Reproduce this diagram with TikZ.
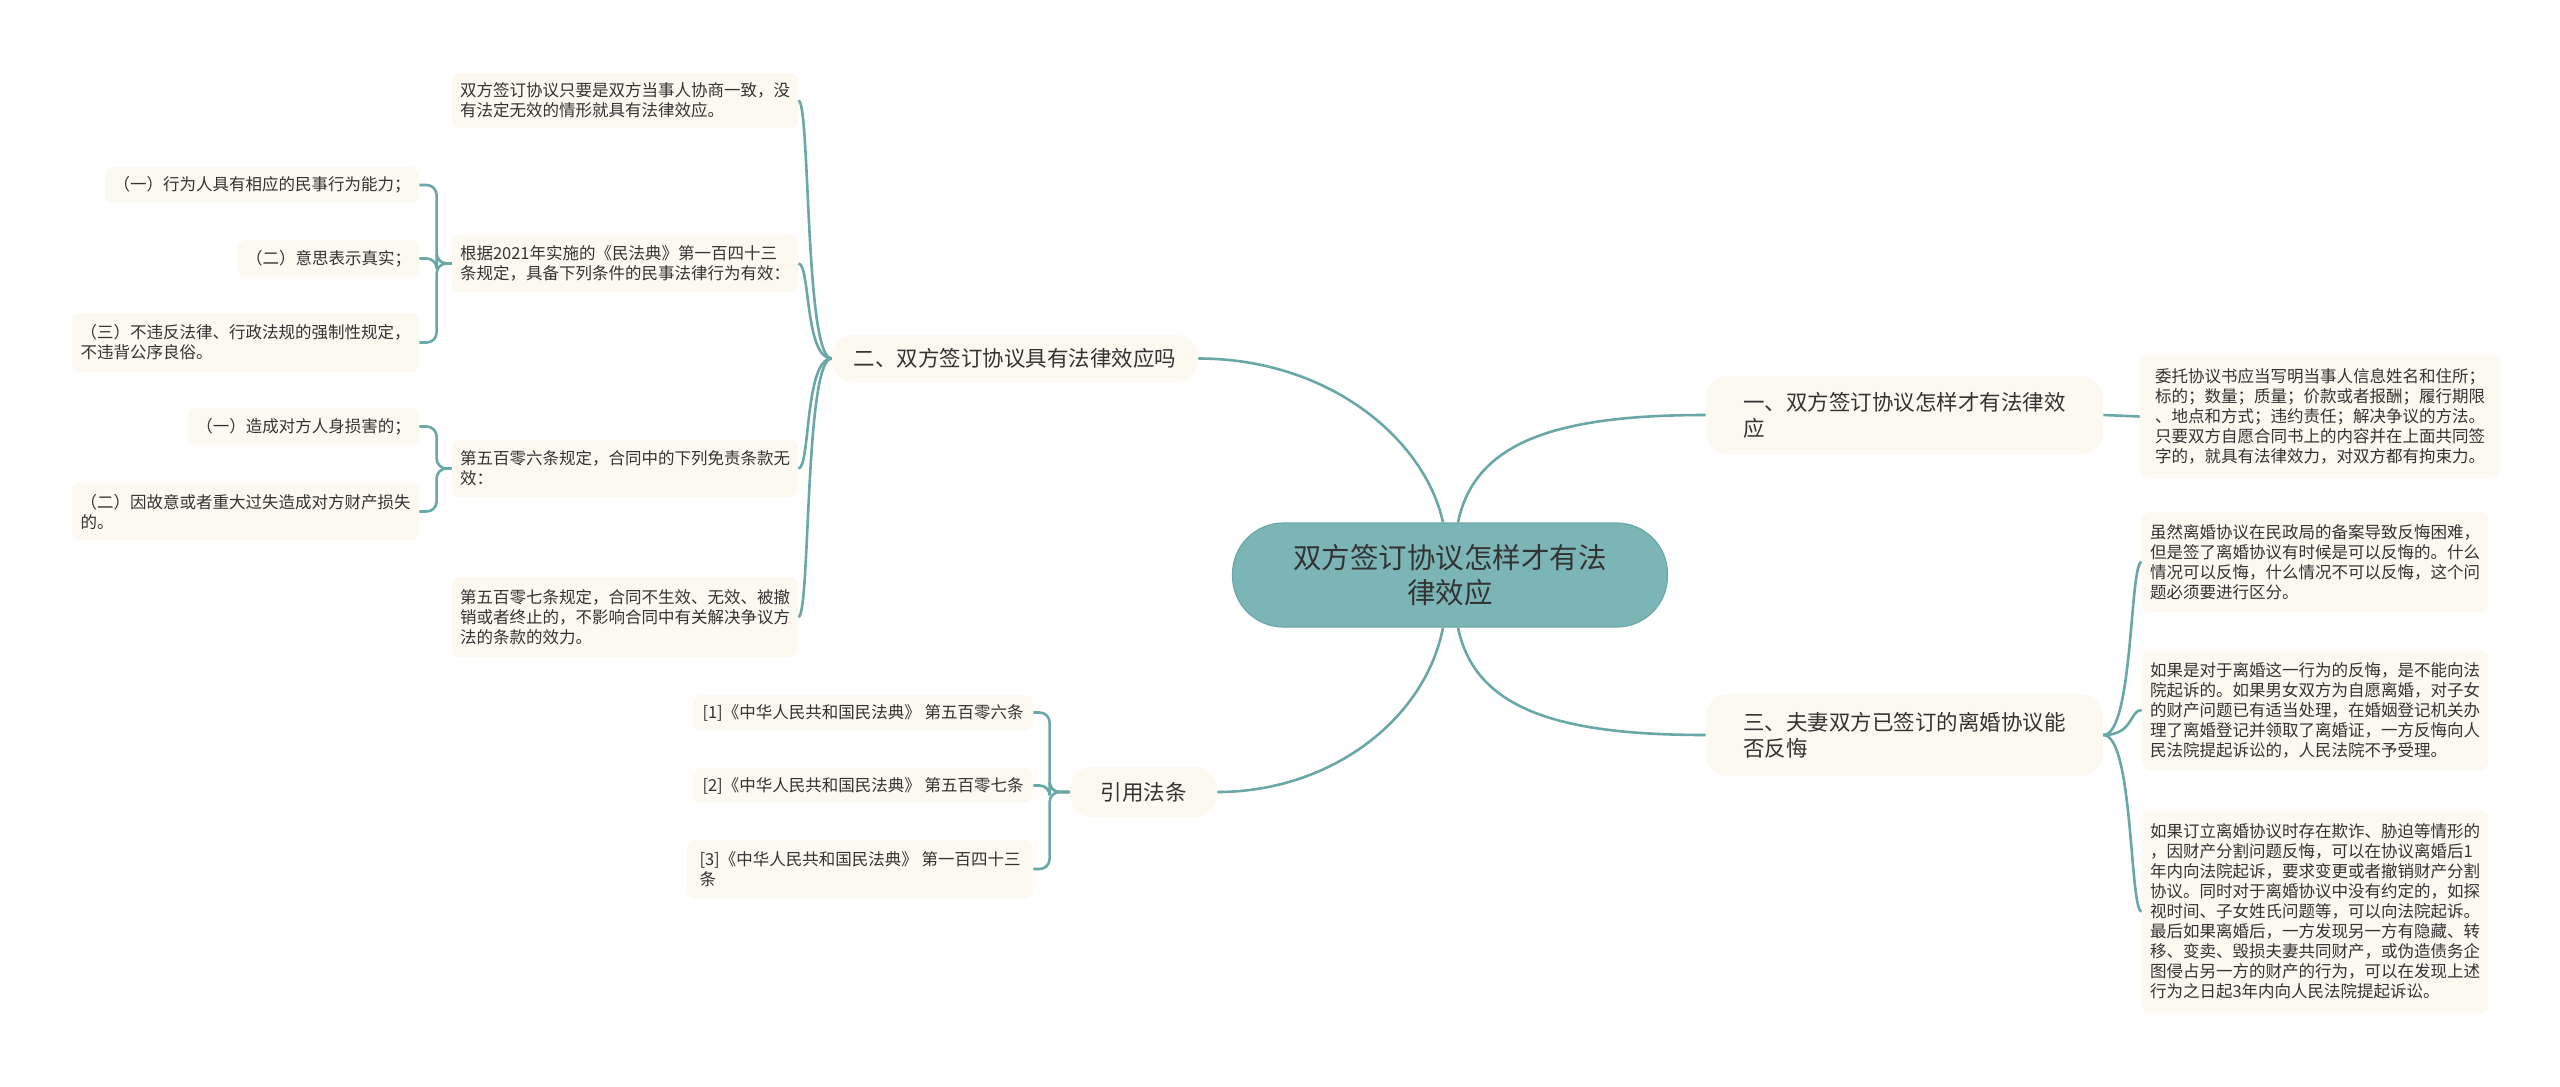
\documentclass[tikz,border=0pt]{standalone}
\usepackage{fontspec}
\usepackage{tikz}
\usetikzlibrary{arrows.meta, positioning}
\newfontfamily\cjk{Noto Sans CJK SC}
\definecolor{lineteal}{RGB}{106,168,168}
\definecolor{rootfill}{RGB}{124,181,181}
\definecolor{cream}{RGB}{252,249,240}
\definecolor{ink}{RGB}{51,51,51}

\begin{document}
\begin{tikzpicture}[x=0.5pt, y=-0.5pt,
  root/.style={rounded corners=25.5pt, fill=rootfill, draw=lineteal, line width=0.6pt, text=ink,
    align=center, inner sep=0pt, font=\cjk\fontsize{14.25}{17.5}\selectfont},
  branch/.style={rounded corners=11pt, fill=cream, text=ink, align=left, inner sep=0pt,
    font=\cjk\fontsize{10.75}{13}\selectfont},
  leaf/.style={rounded corners=4pt, fill=cream, text=ink, align=left, inner sep=0pt,
    font=\cjk\fontsize{8.25}{10}\selectfont},
  link/.style={draw=lineteal, line width=1.3pt},
  brk/.style={link, rounded corners=5pt}]
  \fill[white] (0,0) rectangle (2560,1087);
  \useasboundingbox (0,0) rectangle (2560,1087);

  \node[root, minimum width=217.5pt, minimum height=52pt] (main) at (1450,575) {双方签订协议怎样才有法\\律效应};

  \node[branch, minimum width=198.5pt, minimum height=39pt] (b1) at (1904.5,415) {一、双方签订协议怎样才有法律效\\应};
  \node[branch, minimum width=183pt, minimum height=23.5pt] (b2) at (1015,358.5) {二、双方签订协议具有法律效应吗};
  \node[branch, minimum width=198.5pt, minimum height=41pt] (b3) at (1904.5,735) {三、夫妻双方已签订的离婚协议能\\否反悔};
  \node[branch, minimum width=73.5pt, minimum height=25pt] (b4) at (1143.5,792) {引用法条};

  \node[leaf, minimum width=173pt, minimum height=27.5pt] (la) at (625,100.5) {双方签订协议只要是双方当事人协商一致，没\\有法定无效的情形就具有法律效应。};
  \node[leaf, minimum width=173pt, minimum height=28.5pt] (lb) at (625,263.5) {根据2021年实施的《民法典》第一百四十三\\条规定，具备下列条件的民事法律行为有效：};
  \node[leaf, minimum width=173pt, minimum height=28.5pt] (lc) at (625,468.5) {第五百零六条规定，合同中的下列免责条款无\\效：};
  \node[leaf, minimum width=173pt, minimum height=40pt] (ld) at (625,617) {第五百零七条规定，合同不生效、无效、被撤\\销或者终止的，不影响合同中有关解决争议方\\法的条款的效力。};

  \node[leaf, minimum width=157pt, minimum height=18pt] (lb1) at (262,185) {（一）行为人具有相应的民事行为能力；};
  \node[leaf, minimum width=90.5pt, minimum height=18.5pt] (lb2) at (328.5,258.5) {（二）意思表示真实；};
  \node[leaf, minimum width=173.5pt, minimum height=29.5pt] (lb3) at (245.5,342.5) {（三）不违反法律、行政法规的强制性规定，\\不违背公序良俗。};
  \node[leaf, minimum width=115.5pt, minimum height=18.5pt] (lc1) at (303.5,426.5) {（一）造成对方人身损害的；};
  \node[leaf, minimum width=173.5pt, minimum height=28.5pt] (lc2) at (245.5,511.5) {（二）因故意或者重大过失造成对方财产损失\\的。};

  \node[leaf, minimum width=170pt, minimum height=17.5pt] (c1) at (863,712.5) {[1]《中华人民共和国民法典》 第五百零六条};
  \node[leaf, minimum width=170pt, minimum height=17.5pt] (c2) at (863,785.5) {[2]《中华人民共和国民法典》 第五百零七条};
  \node[leaf, minimum width=173pt, minimum height=29pt] (c3) at (860,869) {[3]《中华人民共和国民法典》 第一百四十三\\条};

  \node[leaf, minimum width=180pt, minimum height=61.5pt] (r1) at (2320,416.5) {委托协议书应当写明当事人信息姓名和住所；\\标的；数量；质量；价款或者报酬；履行期限\\、地点和方式；违约责任；解决争议的方法。\\只要双方自愿合同书上的内容并在上面共同签\\字的，就具有法律效力，对双方都有拘束力。};
  \node[leaf, minimum width=173pt, minimum height=50pt] (r2) at (2315,562) {虽然离婚协议在民政局的备案导致反悔困难，\\但是签了离婚协议有时候是可以反悔的。什么\\情况可以反悔，什么情况不可以反悔，这个问\\题必须要进行区分。};
  \node[leaf, minimum width=173pt, minimum height=60pt] (r3) at (2315,710) {如果是对于离婚这一行为的反悔，是不能向法\\院起诉的。如果男女双方为自愿离婚，对子女\\的财产问题已有适当处理，在婚姻登记机关办\\理了离婚登记并领取了离婚证，一方反悔向人\\民法院提起诉讼的，人民法院不予受理。};
  \node[leaf, minimum width=173pt, minimum height=101.5pt] (r4) at (2315,911.5) {如果订立离婚协议时存在欺诈、胁迫等情形的\\，因财产分割问题反悔，可以在协议离婚后1\\年内向法院起诉，要求变更或者撤销财产分割\\协议。同时对于离婚协议中没有约定的，如探\\视时间、子女姓氏问题等，可以向法院起诉。\\最后如果离婚后，一方发现另一方有隐藏、转\\移、变卖、毁损夫妻共同财产，或伪造债务企\\图侵占另一方的财产的行为，可以在发现上述\\行为之日起3年内向人民法院提起诉讼。};

  \draw[link] ([xshift=4pt]main.north) .. controls (1475,440) and (1560,415) .. (b1.west);
  \draw[link] ([xshift=-3.5pt]main.north) .. controls (1425,440) and (1330,358.5) .. (b2.east);
  \draw[link] ([xshift=4pt]main.south) .. controls (1475,710) and (1560,735) .. (b3.west);
  \draw[link] ([xshift=-3.5pt]main.south) .. controls (1425,720) and (1330,792) .. (b4.east);

  \draw[link] (b1.east) -- (r1.west);
  \foreach \n in {la, lb, lc, ld}
    \draw[link] (b2.west) .. controls +(-27,0) and +(12,0) .. (\n.east);
  \foreach \n in {r2, r3, r4}
    \draw[link] (b3.east) .. controls +(30,0) and +(-12,0) .. (\n.west);

  \foreach \n in {lb1, lb2, lb3}
    \draw[brk] (lb.west) -- ++(-15,0) |- (\n.east);
  \foreach \n in {lc1, lc2}
    \draw[brk] (lc.west) -- ++(-15,0) |- (\n.east);
  \foreach \n in {c1, c2, c3}
    \draw[brk] (b4.west) -- ++(-20,0) |- (\n.east);
\end{tikzpicture}
\end{document}
